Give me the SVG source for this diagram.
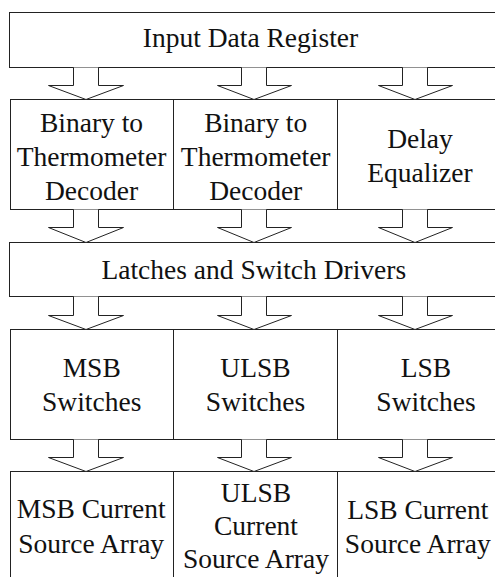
<svg xmlns="http://www.w3.org/2000/svg" width="495" height="577" viewBox="0 0 495 577">
<style>
.b{fill:#fff;stroke:#222;stroke-width:1}
.a{fill:#fff;stroke:#222;stroke-width:1;stroke-linejoin:miter}
text{font-family:'Liberation Serif','DejaVu Serif',serif;font-size:27.5px;fill:#111;text-anchor:middle}
</style>
<rect width="495" height="577" fill="#fff"/>
<g id="input-data-register">
<rect class="b" x="9.5" y="12.5" width="495" height="55"/>
<text x="250.5" y="46.5" font-family="Liberation Serif">Input Data Register</text>
</g>
<g id="decoder-row">
<rect class="b" x="10.5" y="99.5" width="495" height="110"/>
<line class="b" x1="173.5" y1="99.5" x2="173.5" y2="209.5"/>
<line class="b" x1="337.5" y1="99.5" x2="337.5" y2="209.5"/>
</g>
<g id="b2t-decoder-1" font-family="Liberation Serif">
<text x="91.5" y="131.7">Binary to</text>
<text x="91.5" y="165.7">Thermometer</text>
<text x="91.5" y="199.7">Decoder</text>
</g>
<g id="b2t-decoder-2">
<text x="255.7" y="131.7">Binary to</text>
<text x="255.7" y="165.7">Thermometer</text>
<text x="255.7" y="199.7">Decoder</text>
</g>
<g id="delay-equalizer">
<text x="420" y="148.3">Delay</text>
<text x="420" y="182">Equalizer</text>
</g>
<g id="latches">
<rect class="b" x="9.5" y="242.5" width="495" height="54"/>
<text x="253.8" y="279.3">Latches and Switch Drivers</text>
</g>
<g id="switches-row">
<rect class="b" x="10.5" y="329.5" width="495" height="110"/>
<line class="b" x1="173.5" y1="329.5" x2="173.5" y2="439.5"/>
<line class="b" x1="337.5" y1="329.5" x2="337.5" y2="439.5"/>
</g>
<g id="msb-switches">
<text x="91.7" y="376.7">MSB</text>
<text x="91.7" y="410.5">Switches</text>
</g>
<g id="ulsb-switches">
<text x="255.5" y="376.7">ULSB</text>
<text x="255.5" y="410.5">Switches</text>
</g>
<g id="lsb-switches">
<text x="426" y="376.7">LSB</text>
<text x="426" y="410.5">Switches</text>
</g>
<g id="current-row">
<rect class="b" x="10.5" y="471.5" width="495" height="120"/>
<line class="b" x1="173.5" y1="471.5" x2="173.5" y2="590"/>
<line class="b" x1="337.5" y1="471.5" x2="337.5" y2="590"/>
</g>
<g id="msb-current">
<text x="91.2" y="518.3">MSB Current</text>
<text x="91.2" y="553.3">Source Array</text>
</g>
<g id="ulsb-current">
<text x="256" y="501.7">ULSB</text>
<text x="256" y="535">Current</text>
<text x="256" y="568">Source Array</text>
</g>
<g id="lsb-current">
<text x="417.8" y="518.8">LSB Current</text>
<text x="417.8" y="553.3">Source Array</text>
</g>
<g id="connectors">
<polyline class="a" points="73.5,67.5 73.5,85.5 48.5,85.5 86,99.5 123.5,85.5 98.5,85.5 98.5,67.5"/>
<polyline class="a" points="241.5,67.5 241.5,85.5 217.5,85.5 254,99.5 291.5,85.5 266.5,85.5 266.5,67.5"/>
<polyline class="a" points="402.5,67.5 402.5,85.5 378.5,85.5 415,99.5 452.5,85.5 427.5,85.5 427.5,67.5"/>
<polyline class="a" points="73.5,209.5 73.5,227.5 48.5,227.5 86,242.5 123.5,227.5 98.5,227.5 98.5,209.5"/>
<polyline class="a" points="241.5,209.5 241.5,227.5 217.5,227.5 254,242.5 291.5,227.5 266.5,227.5 266.5,209.5"/>
<polyline class="a" points="402.5,209.5 402.5,227.5 378.5,227.5 415,242.5 452.5,227.5 427.5,227.5 427.5,209.5"/>
<polyline class="a" points="73.5,296.5 73.5,315.5 48.5,315.5 86,329.5 123.5,315.5 98.5,315.5 98.5,296.5"/>
<polyline class="a" points="241.5,296.5 241.5,315.5 217.5,315.5 254,329.5 291.5,315.5 266.5,315.5 266.5,296.5"/>
<polyline class="a" points="402.5,296.5 402.5,315.5 378.5,315.5 415,329.5 452.5,315.5 427.5,315.5 427.5,296.5"/>
<polyline class="a" points="73.5,439.5 73.5,457.5 48.5,457.5 86,471.5 123.5,457.5 98.5,457.5 98.5,439.5"/>
<polyline class="a" points="241.5,439.5 241.5,457.5 217.5,457.5 254,471.5 291.5,457.5 266.5,457.5 266.5,439.5"/>
<polyline class="a" points="402.5,439.5 402.5,457.5 378.5,457.5 415,471.5 452.5,457.5 427.5,457.5 427.5,439.5"/>
</g>
</svg>
